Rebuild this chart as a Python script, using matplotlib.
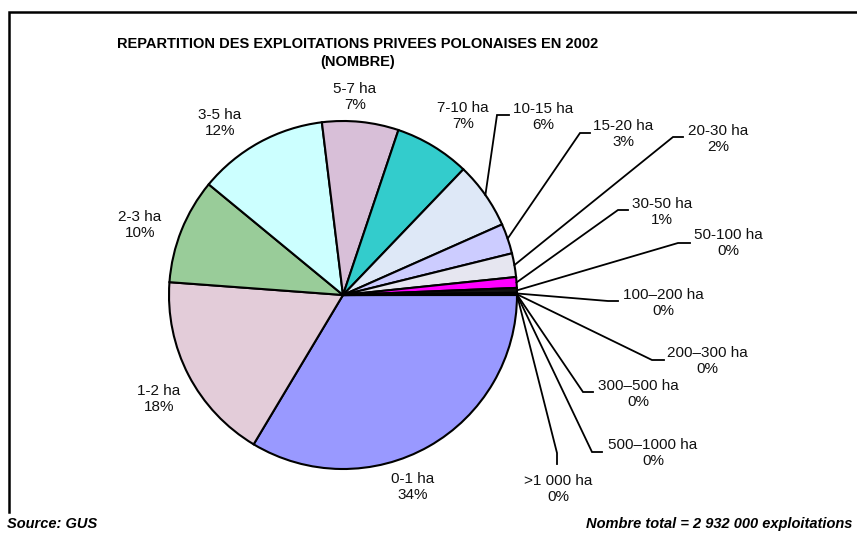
import matplotlib
matplotlib.use("Agg")
import matplotlib.pyplot as plt

# ---- data ----
categories = ['0-1 ha', '1-2 ha', '2-3 ha', '3-5 ha', '5-7 ha', '7-10 ha', '10-15 ha',
              '15-20 ha', '20-30 ha', '30-50 ha', '50-100 ha', '100–200 ha',
              '200–300 ha', '300–500 ha', '500–1000 ha', '>1 000 ha']
shares = [33.6, 17.6, 9.8, 12.1, 7.1, 7.0, 6.2, 2.8, 2.2, 1.0, 0.45, 0.12,
          0.03, 0.03, 0.01, 0.01]
colors = ['#9999FF', '#E3CCD9', '#99CC99', '#CCFFFF', '#D8BFD8', '#33CCCC',
          '#DEE8F7', '#CCCCFF', '#E6E6F0', '#FF00FF', '#111111', '#00CCCC',
          '#222222', '#222222', '#222222', '#222222']
title = 'REPARTITION DES EXPLOITATIONS PRIVEES POLONAISES EN 2002\n(NOMBRE)'
source_text = 'Source: GUS'
total_text = 'Nombre total = 2 932 000 exploitations'

# ---- layout (pixel coords, y from top) ----
W, H = 857, 536
center_px = (343, 295)
radius = 174
label_pos = [(413, 487), (159, 399), (140, 225), (220, 123), (355, 97), (463, 116),
             (543, 117), (623, 134), (718, 139), (662, 212), (728, 243), (663, 303),
             (707, 361), (638, 394), (653, 453), (558, 489)]
# leader: (elbow, end) or None
leaders = [None, None, None, None, None, None,
           ((497, 115), (509, 115)),
           ((580, 133), (590, 133)),
           ((673, 137), (683, 137)),
           ((618, 210), (628, 210)),
           ((678, 243), (690, 243)),
           ((608, 301), (618, 301)),
           ((652, 360), (664, 360)),
           ((583, 392), (593, 392)),
           ((592, 452), (602, 452)),
           ((557, 453), (557, 464))]

plt.rcParams['font.family'] = ['Liberation Sans', 'DejaVu Sans']

fig = plt.figure(figsize=(W / 100, H / 100), dpi=100)
ax = fig.add_axes([0, 0, 1, 1])

def P(x, y):
    return (x, H - y)

wedges, _ = ax.pie(shares, colors=colors, startangle=0, counterclock=False,
                   center=P(*center_px), radius=radius,
                   wedgeprops=dict(edgecolor='black', linewidth=1.5))

ax.set_xlim(0, W)
ax.set_ylim(0, H)
ax.set_aspect('equal')
ax.axis('off')

total = sum(shares)
import math
cx, cy = P(*center_px)
for i, (cat, v) in enumerate(zip(categories, shares)):
    pct = f"{round(v / total * 100):.0f}%"
    lx, ly = P(*label_pos[i])
    ax.text(lx, ly, f"{cat}\n{pct}", ha='center', va='center', fontsize=11,
            linespacing=1.25, color='#111111')
    if leaders[i] is not None:
        w = wedges[i]
        mid = math.radians((w.theta1 + w.theta2) / 2)
        sx = cx + radius * math.cos(mid)
        sy = cy + radius * math.sin(mid)
        (ex, ey), (fx, fy) = leaders[i]
        ax.plot([sx, ex, fx], [sy, H - ey, H - fy], color='black', lw=1.3,
                solid_joinstyle='miter', zorder=3)

ax.text(358, H - 53, title, ha='center', va='center', fontsize=10.5,
        fontweight='bold', linespacing=1.35)
ax.text(7, H - 524, source_text, ha='left', va='center', fontsize=10.5,
        fontweight='bold', fontstyle='italic')
ax.text(852, H - 524, total_text, ha='right', va='center', fontsize=10.5,
        fontweight='bold', fontstyle='italic')

# frame
ax.plot([9, 9, W], [H - 512, H - 12, H - 12], color='black', lw=1.8,
        clip_on=False, solid_joinstyle='miter')

fig.savefig('out.png', dpi=100)
